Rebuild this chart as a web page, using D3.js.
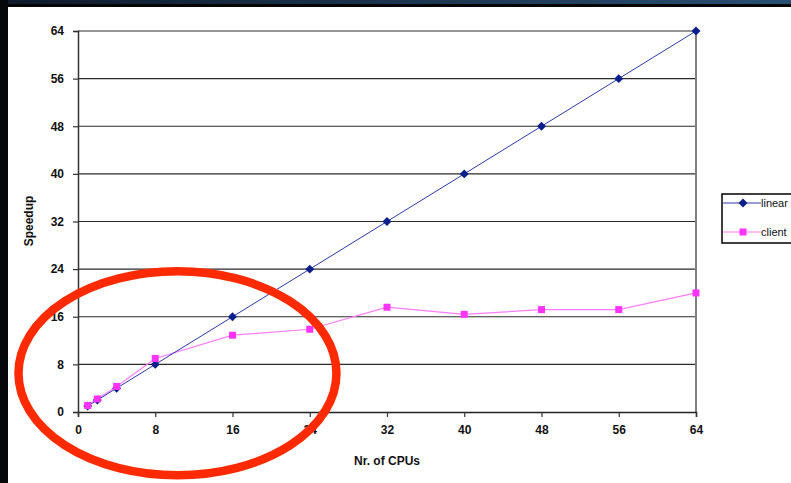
<!DOCTYPE html>
<html>
<head>
<meta charset="utf-8">
<script src="https://cdn.jsdelivr.net/npm/d3@7"></script>
<style>
  html, body { margin: 0; padding: 0; background: #fff; }
  svg { display: block; font-family: "Liberation Sans", Arial, sans-serif; }
</style>
</head>
<body>
<svg id="chart" width="791" height="483"></svg>
<script>
// CPU counts and measured speedups
const cpus = [1, 2, 4, 8, 16, 24, 32, 40, 48, 56, 64];
const linearSpeedup = [1, 2, 4, 8, 16, 24, 32, 40, 48, 56, 64];
const clientSpeedup = [1.1, 2.2, 4.3, 9.0, 12.9, 13.9, 17.6, 16.4, 17.2, 17.2, 20.0];
const xTicks = [0, 8, 16, 24, 32, 40, 48, 56, 64];
const yTicks = [0, 8, 16, 24, 32, 40, 48, 56, 64];
const seriesNames = ["linear", "client"];

const svg = d3.select("#chart");
const W = 791, H = 483;

// slide frame: dark band on top and left
const defs = svg.append("defs");
const grad = defs.append("linearGradient").attr("id", "band").attr("x1", "0").attr("x2", "1");
grad.append("stop").attr("offset", "0").attr("stop-color", "#0f1a2a");
grad.append("stop").attr("offset", "1").attr("stop-color", "#2a4f72");
svg.append("rect").attr("x", 0).attr("y", 0).attr("width", W).attr("height", 5).attr("fill", "url(#band)");
svg.append("rect").attr("x", 0).attr("y", 4).attr("width", W).attr("height", 3).attr("fill", "#050505");
svg.append("rect").attr("x", 0).attr("y", 0).attr("width", 8).attr("height", H).attr("fill", "#05070a");

const plot = { left: 78, right: 696, top: 31, bottom: 412 };
const x = d3.scaleLinear().domain([0, 64]).range([plot.left, plot.right]);
const y = d3.scaleLinear().domain([0, 64]).range([plot.bottom, plot.top]);

// horizontal gridlines
svg.append("g").selectAll("line").data(yTicks.filter(t => t > 0)).join("line")
  .attr("x1", plot.left).attr("x2", plot.right)
  .attr("y1", d => y(d)).attr("y2", d => y(d))
  .attr("stroke", "#2b2b2b").attr("stroke-width", 1.2);

// right border
svg.append("line").attr("x1", plot.right).attr("x2", plot.right)
  .attr("y1", plot.top).attr("y2", plot.bottom)
  .attr("stroke", "#808080").attr("stroke-width", 2);

// y axis
const yAxis = d3.axisLeft(y).tickValues(yTicks).tickSize(5).tickPadding(9);
const gy = svg.append("g").attr("transform", `translate(${plot.left},0)`).call(yAxis);
gy.select(".domain").attr("stroke", "#333").attr("stroke-width", 1.5);
gy.selectAll(".tick line").attr("stroke", "#333").attr("stroke-width", 1.2);
gy.selectAll("text").attr("font-size", 12).attr("font-weight", "bold").attr("fill", "#111")
  .attr("font-family", "Liberation Sans, Arial, sans-serif");

// x axis
const xAxis = d3.axisBottom(x).tickValues(xTicks).tickSize(5).tickPadding(8);
const gx = svg.append("g").attr("transform", `translate(0,${plot.bottom})`).call(xAxis);
gx.select(".domain").attr("stroke", "#222").attr("stroke-width", 1.5);
gx.selectAll(".tick line").attr("stroke", "#333").attr("stroke-width", 1.2);
gx.selectAll("text").attr("font-size", 12).attr("font-weight", "bold").attr("fill", "#111")
  .attr("font-family", "Liberation Sans, Arial, sans-serif");

// axis titles
svg.append("text").attr("x", 387).attr("y", 465).attr("text-anchor", "middle")
  .attr("font-size", 12).attr("font-weight", "bold").attr("fill", "#111").text("Nr. of CPUs");
svg.append("text").attr("transform", "translate(33,221) rotate(-90)").attr("text-anchor", "middle")
  .attr("font-size", 12).attr("font-weight", "bold").attr("fill", "#111").text("Speedup");

const linearColor = "#2a3aa8", linearMarker = "#0b1f8a";
const clientColor = "#ff7cff", clientMarker = "#ff33ff";

const line = d3.line().x(d => x(d[0])).y(d => y(d[1]));
const linearPts = cpus.map((c, i) => [c, linearSpeedup[i]]);
const clientPts = cpus.map((c, i) => [c, clientSpeedup[i]]);

svg.append("path").datum(clientPts).attr("d", line).attr("fill", "none")
  .attr("stroke", clientColor).attr("stroke-width", 1.2);
svg.append("path").datum(linearPts).attr("d", line).attr("fill", "none")
  .attr("stroke", linearColor).attr("stroke-width", 1);

// diamond markers: squares turned 45 degrees
const diamond = d3.symbol().type(d3.symbolSquare).size(40);
svg.append("g").selectAll("path").data(linearPts).join("path")
  .attr("d", diamond).attr("transform", d => `translate(${x(d[0])},${y(d[1])}) rotate(45)`)
  .attr("fill", linearMarker);
svg.append("g").selectAll("rect").data(clientPts).join("rect")
  .attr("x", d => x(d[0]) - 3.5).attr("y", d => y(d[1]) - 3.5)
  .attr("width", 7).attr("height", 7).attr("fill", clientMarker);

// legend
const lg = svg.append("g").attr("transform", "translate(722,194)");
lg.append("rect").attr("x", 0).attr("y", 0).attr("width", 80).attr("height", 49)
  .attr("fill", "#fff").attr("stroke", "#000").attr("stroke-width", 1.5);
const legendItems = [
  { name: seriesNames[0], color: linearColor, marker: "diamond", fill: linearMarker, y: 9 },
  { name: seriesNames[1], color: clientColor, marker: "square", fill: clientMarker, y: 38 }
];
legendItems.forEach(it => {
  lg.append("line").attr("x1", 1).attr("x2", 39).attr("y1", it.y).attr("y2", it.y)
    .attr("stroke", it.color).attr("stroke-width", 1.2);
  if (it.marker === "diamond") {
    lg.append("path").attr("d", diamond).attr("transform", `translate(21,${it.y}) rotate(45)`).attr("fill", it.fill);
  } else {
    lg.append("rect").attr("x", 17.5).attr("y", it.y - 3.5).attr("width", 7).attr("height", 7).attr("fill", it.fill);
  }
  lg.append("text").attr("x", 39).attr("y", it.y + 4).attr("font-size", 11).attr("fill", "#111").text(it.name);
});

// hand-drawn highlight around the small-CPU region
svg.append("ellipse").attr("cx", x(10.3)).attr("cy", y(6.5)).attr("rx", 159).attr("ry", 102)
  .attr("fill", "none").attr("stroke", "#ff2a00").attr("stroke-width", 8.5);
</script>
</body>
</html>
